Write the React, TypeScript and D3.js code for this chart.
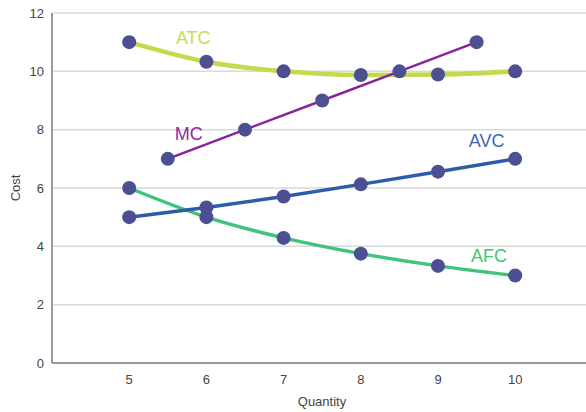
import React from "react";
import * as d3 from "d3";

const quantities = [5, 6, 7, 8, 9, 10];
const atcValues = [11, 10.33, 10, 9.875, 9.89, 10];
const avcValues = [5, 5.33, 5.71, 6.125, 6.56, 7];
const afcValues = [6, 5, 4.29, 3.75, 3.33, 3];
const mcQuantities = [5.5, 6.5, 7.5, 8.5, 9.5];
const mcValues = [7, 8, 9, 10, 11];
const yTicks = [0, 2, 4, 6, 8, 10, 12];
const xTicks = [5, 6, 7, 8, 9, 10];

const W = 586;
const H = 412;
const left = 52;
const bottom = 363;
const top = 13;

export default function App() {
  const x = d3.scaleLinear().domain([4, 5]).range([left, 129.2]);
  const y = d3.scaleLinear().domain([0, 12]).range([bottom, top]);

  const pts = (xs: number[], ys: number[]) => xs.map((q, i) => [q, ys[i]] as [number, number]);
  const smooth = d3.line<[number, number]>().x(d => x(d[0])).y(d => y(d[1])).curve(d3.curveMonotoneX);
  const straight = d3.line<[number, number]>().x(d => x(d[0])).y(d => y(d[1]));

  const series = [
    { name: "ATC", data: pts(quantities, atcValues), color: "#c3da4c", width: 4.5, gen: smooth },
    { name: "AFC", data: pts(quantities, afcValues), color: "#3fc47a", width: 3.5, gen: smooth },
    { name: "AVC", data: pts(quantities, avcValues), color: "#2f5bab", width: 3.5, gen: straight },
    { name: "MC", data: pts(mcQuantities, mcValues), color: "#87269b", width: 2.5, gen: straight },
  ];

  const labels = [
    { text: "ATC", q: 5.83, v: 10.95, color: "#c6dc55" },
    { text: "MC", q: 5.77, v: 7.65, color: "#8b2f9f" },
    { text: "AVC", q: 9.63, v: 7.4, color: "#3c68b3" },
    { text: "AFC", q: 9.66, v: 3.45, color: "#3fc47a" },
  ];

  const font = "Liberation Sans, Arial, sans-serif";

  return (
    <svg width={W} height={H} style={{ position: "absolute", left: 0, top: 0, background: "#fff" }}>
      {yTicks.map(t => (
        <g key={"y" + t}>
          {t > 0 && <line x1={left} x2={W} y1={y(t)} y2={y(t)} stroke="#d9d9d9" strokeWidth={1.5} />}
          <text x={44} y={y(t)} dy="0.35em" textAnchor="end" fontFamily={font} fontSize={13} fill="#444">{t}</text>
        </g>
      ))}
      {xTicks.map(t => (
        <text key={"x" + t} x={x(t)} y={384} textAnchor="middle" fontFamily={font} fontSize={13} fill="#444">{t}</text>
      ))}
      <line x1={left} x2={W} y1={bottom} y2={bottom} stroke="#9a9a9a" strokeWidth={2} />
      <line x1={left} x2={left} y1={top} y2={bottom} stroke="#9a9a9a" strokeWidth={2} />
      <text x={322} y={406} textAnchor="middle" fontFamily={font} fontSize={13} fill="#444">Quantity</text>
      <text transform={`translate(20,${y(6)}) rotate(-90)`} textAnchor="middle" fontFamily={font} fontSize={13} fill="#444">Cost</text>
      {series.map(s => (
        <path key={s.name} d={s.gen(s.data) || ""} fill="none" stroke={s.color} strokeWidth={s.width} strokeLinecap="round" />
      ))}
      {series.map(s => s.data.map((d, i) => (
        <circle key={s.name + i} cx={x(d[0])} cy={y(d[1])} r={7} fill="#4c4f91" />
      )))}
      {labels.map(l => (
        <text key={l.text} x={x(l.q)} y={y(l.v)} textAnchor="middle" fontFamily={font} fontSize={18} fill={l.color}>{l.text}</text>
      ))}
    </svg>
  );
}
